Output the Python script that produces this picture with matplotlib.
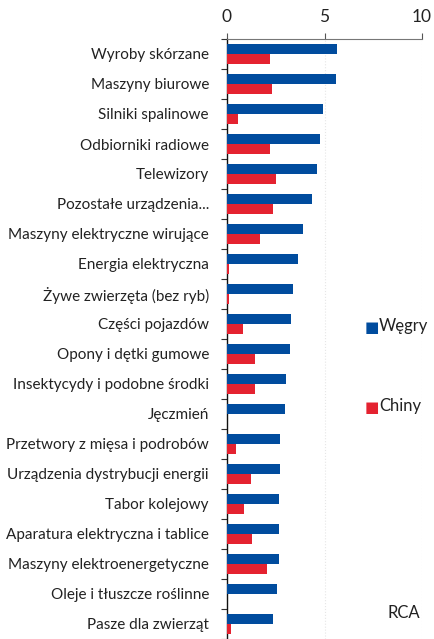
import numpy as np
import matplotlib.pyplot as plt

# Data (RCA index)
categories = [
    "Wyroby skórzane", "Maszyny biurowe", "Silniki spalinowe", "Odbiorniki radiowe",
    "Telewizory", "Pozostałe urządzenia...", "Maszyny elektryczne wirujące",
    "Energia elektryczna", "Żywe zwierzęta (bez ryb)", "Części pojazdów",
    "Opony i dętki gumowe", "Insektycydy i podobne środki", "Jęczmień",
    "Przetwory z mięsa i podrobów", "Urządzenia dystrybucji energii", "Tabor kolejowy",
    "Aparatura elektryczna i tablice", "Maszyny elektroenergetyczne",
    "Oleje i tłuszcze roślinne", "Pasze dla zwierząt",
]
wegry = [5.66, 5.61, 4.92, 4.77, 4.60, 4.36, 3.90, 3.64, 3.37, 3.26,
         3.21, 3.03, 2.99, 2.74, 2.70, 2.68, 2.67, 2.67, 2.56, 2.36]
chiny = [2.22, 2.31, 0.58, 2.21, 2.50, 2.36, 1.68, 0.12, 0.10, 0.82,
         1.42, 1.42, 0.0, 0.44, 1.23, 0.85, 1.30, 2.07, 0.0, 0.22]
x_ticks = [0, 5, 10]

blue = "#004C9E"
red = "#E42230"

plt.rcParams['font.family'] = ['Lato', 'DejaVu Sans']

fig = plt.figure(figsize=(4.35, 6.39), dpi=100)
ax = fig.add_axes([227 / 435, 0.0, 195 / 435, 1 - 39 / 639])

y = np.arange(len(categories))
h = 0.333
ax.barh(y - h / 2, wegry, height=h, color=blue, label="Węgry", zorder=3)
ax.barh(y + h / 2, chiny, height=h, color=red, label="Chiny", zorder=3)

ax.set_xlim(0, 10)
ax.set_ylim(len(categories) - 0.5, -0.5)

# x axis on top
ax.xaxis.tick_top()
ax.set_xticks(x_ticks)
ax.set_xticklabels([str(t) for t in x_ticks], fontsize=12.5, color="#222222")
ax.tick_params(axis="x", length=4, width=0.8, color="#555555", pad=6)
ax.grid(axis="x", color="#e6e6e6", linestyle=":", linewidth=0.8, zorder=0)

# y axis: labels centred, ticks at category boundaries
ax.set_yticks(y)
ax.set_yticklabels(categories, fontsize=11, color="#222222")
ax.tick_params(axis="y", which="major", length=0, pad=13)
ax.set_yticks(np.arange(-0.5, len(categories), 1.0), minor=True)
ax.tick_params(axis="y", which="minor", length=4, width=0.8, color="#333333")

for s in ["right", "bottom"]:
    ax.spines[s].set_visible(False)
ax.spines["top"].set_color("#777777")
ax.spines["top"].set_linewidth(0.8)
ax.spines["left"].set_color("#111111")
ax.spines["left"].set_linewidth(1.0)

# legend entries placed as in the reference
fig.text(365 / 435, 1 - 328 / 639, "\u25A0", color=blue, fontsize=11, va="center", ha="left")
fig.text(379 / 435, 1 - 326 / 639, "Węgry", color="#222222", fontsize=12, va="center", ha="left")
fig.text(365 / 435, 1 - 408 / 639, "\u25A0", color=red, fontsize=11, va="center", ha="left")
fig.text(379 / 435, 1 - 406 / 639, "Chiny", color="#222222", fontsize=12, va="center", ha="left")
fig.text(388 / 435, 1 - 613 / 639, "RCA", color="#222222", fontsize=12, va="center", ha="left")

fig.savefig("out.png", dpi=100)
